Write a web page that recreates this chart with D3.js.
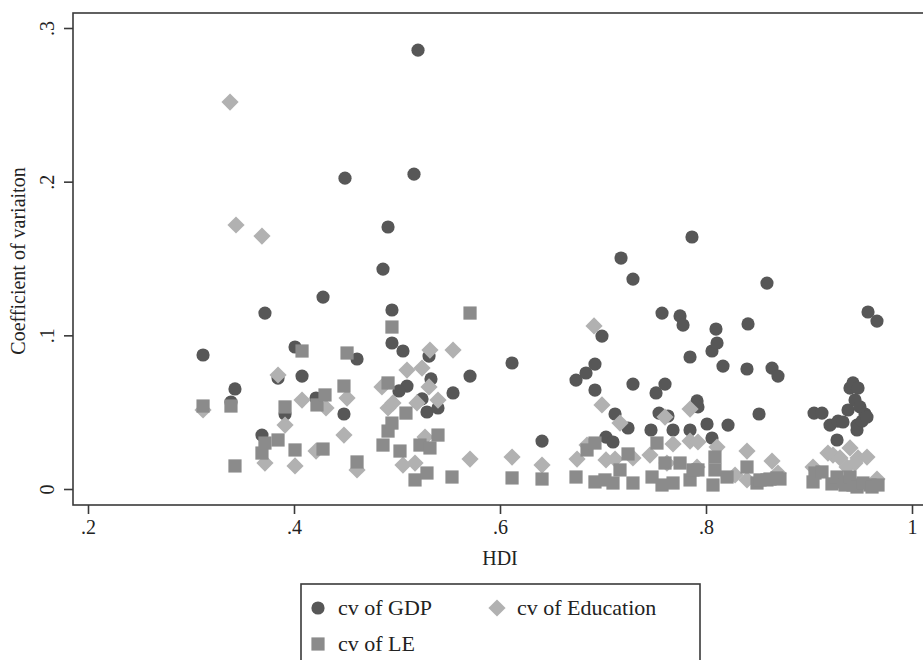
<!DOCTYPE html>
<html>
<head>
<meta charset="utf-8">
<script src="https://cdn.jsdelivr.net/npm/d3@7/dist/d3.min.js"></script>
<style>
  html, body { margin: 0; padding: 0; background: #fff; }
  svg { display: block; }
  text { font-family: "Liberation Serif", "Times New Roman", serif; fill: #222; }
</style>
</head>
<body>
<svg id="chart" width="923" height="660"></svg>
<script>
// ---- Data: [HDI, coefficient of variation] ----
const gdpPoints = [
  [0.3117,0.0872],[0.3427,0.0651],[0.3388,0.0566],[0.3718,0.1145],[0.3689,0.0351],
  [0.3845,0.0722],[0.3913,0.0488],[0.4010,0.0924],[0.4078,0.0735],[0.4214,0.0592],
  [0.4282,0.1249],[0.4495,0.2023],[0.4485,0.0488],[0.4612,0.0846],[0.4864,0.1431],
  [0.4913,0.1705],[0.4951,0.1165],[0.4951,0.0950],[0.5058,0.0898],[0.5165,0.2049],
  [0.5204,0.2856],[0.5097,0.0670],[0.5019,0.0638],[0.5243,0.0586],[0.5291,0.0501],
  [0.5311,0.0865],[0.5330,0.0716],[0.5398,0.0527],[0.5544,0.0625],[0.5709,0.0735],
  [0.6117,0.0820],[0.6408,0.0312],
  [0.6738,0.0709],[0.6835,0.0755],[0.6922,0.0813],[0.6922,0.0644],[0.6990,0.0995],
  [0.7029,0.0338],[0.7097,0.0306],[0.7117,0.0488],[0.7175,0.1503],[0.7243,0.0397],
  [0.7291,0.0683],[0.7291,0.1366],[0.7466,0.0384],[0.7515,0.0625],[0.7544,0.0494],
  [0.7573,0.1145],[0.7602,0.0683],[0.7631,0.0475],[0.7680,0.0384],[0.7748,0.1126],
  [0.7777,0.1067],[0.7845,0.0859],[0.7845,0.0384],[0.7864,0.1640],[0.7913,0.0573],
  [0.7922,0.0534],[0.8010,0.0423],[0.8058,0.0898],[0.8058,0.0332],[0.8097,0.1041],
  [0.8107,0.0950],[0.8165,0.0800],[0.8214,0.0416],[0.8398,0.0781],[0.8408,0.1074],
  [0.8515,0.0488],[0.8592,0.1340],[0.8641,0.0787],[0.8699,0.0735],
  [0.9049,0.0494],[0.9126,0.0494],[0.9204,0.0416],[0.9272,0.0319],[0.9282,0.0442],
  [0.9330,0.0436],[0.9379,0.0514],[0.9398,0.0657],[0.9427,0.0690],[0.9447,0.0579],
  [0.9466,0.0384],[0.9466,0.0416],[0.9476,0.0657],[0.9495,0.0534],[0.9515,0.0442],
  [0.9544,0.0488],[0.9563,0.0468],[0.9573,0.1152],[0.9660,0.1093]
];
const eduPoints = [
  [0.3379,0.2518],[0.3437,0.1718],[0.3689,0.1646],[0.3117,0.0514],[0.3845,0.0742],
  [0.3913,0.0416],[0.4078,0.0579],[0.3718,0.0169],[0.4010,0.0150],[0.4214,0.0247],
  [0.4311,0.0527],[0.4485,0.0351],[0.4515,0.0592],[0.4612,0.0124],[0.4854,0.0664],
  [0.4913,0.0527],[0.4961,0.0560],[0.5097,0.0774],[0.5243,0.0787],[0.5320,0.0904],
  [0.5544,0.0904],[0.5311,0.0664],[0.5194,0.0560],[0.5398,0.0579],[0.5272,0.0338],
  [0.5058,0.0156],[0.5175,0.0169],[0.5709,0.0195],
  [0.6117,0.0208],[0.6408,0.0156],
  [0.6748,0.0195],[0.6845,0.0286],[0.6913,0.1061],[0.6990,0.0547],[0.7029,0.0189],
  [0.7117,0.0195],[0.7165,0.0429],[0.7291,0.0202],[0.7456,0.0221],[0.7602,0.0468],
  [0.7621,0.0169],[0.7680,0.0293],[0.7845,0.0520],[0.7845,0.0312],[0.7922,0.0306],
  [0.7913,0.0143],[0.8107,0.0273],[0.8282,0.0091],[0.8398,0.0247],[0.8398,0.0059],
  [0.8641,0.0182],[0.8699,0.0104],
  [0.9039,0.0143],[0.9184,0.0234],[0.9233,0.0221],[0.9301,0.0202],[0.9369,0.0143],
  [0.9398,0.0267],[0.9447,0.0169],[0.9476,0.0202],[0.9563,0.0208],[0.9660,0.0065]
];
const lePoints = [
  [0.3117,0.0540],[0.3388,0.0540],[0.3427,0.0150],[0.3689,0.0234],[0.3718,0.0299],
  [0.3845,0.0319],[0.3913,0.0534],[0.4010,0.0254],[0.4078,0.0898],[0.4223,0.0547],
  [0.4282,0.0260],[0.4301,0.0612],
  [0.4485,0.0670],[0.4515,0.0885],[0.4612,0.0176],[0.4864,0.0286],[0.4913,0.0377],
  [0.4913,0.0690],[0.4951,0.1054],[0.4951,0.0429],[0.5029,0.0247],[0.5087,0.0494],
  [0.5175,0.0059],[0.5223,0.0286],[0.5291,0.0104],[0.5320,0.0267],[0.5398,0.0351],
  [0.5534,0.0078],[0.5709,0.1145],
  [0.6117,0.0072],[0.6408,0.0065],
  [0.6738,0.0078],[0.6845,0.0254],[0.6922,0.0299],[0.6922,0.0046],[0.7019,0.0059],
  [0.7097,0.0039],[0.7165,0.0124],[0.7243,0.0228],[0.7291,0.0039],[0.7476,0.0078],
  [0.7524,0.0299],[0.7573,0.0026],[0.7602,0.0169],[0.7680,0.0039],[0.7748,0.0169],
  [0.7845,0.0059],[0.7874,0.0124],[0.7922,0.0124],[0.8068,0.0026],[0.8087,0.0124],
  [0.8087,0.0208],[0.8204,0.0078],[0.8398,0.0143],[0.8495,0.0039],[0.8524,0.0059],
  [0.8592,0.0059],[0.8621,0.0065],[0.8689,0.0072],[0.8718,0.0065],
  [0.9039,0.0046],[0.9058,0.0104],[0.9126,0.0111],[0.9223,0.0033],[0.9272,0.0078],
  [0.9330,0.0046],[0.9350,0.0026],[0.9398,0.0078],[0.9427,0.0026],[0.9466,0.0013],
  [0.9524,0.0039],[0.9592,0.0026],[0.9612,0.0013],[0.9670,0.0026]
];
const xTicks = [0.2, 0.4, 0.6, 0.8, 1];
const xTickLabels = [".2", ".4", ".6", ".8", "1"];
const yTicks = [0, 0.1, 0.2, 0.3];
const yTickLabels = ["0", ".1", ".2", ".3"];
const legendLabels = ["cv of GDP", "cv of Education", "cv of LE"];

// ---- Layout ----
const svg = d3.select("#chart");
const frame = { left: 73, top: 13, right: 935, bottom: 505 };
const x = d3.scaleLinear().domain([0.2, 1]).range([88, 912]);
const y = d3.scaleLinear().domain([0, 0.3]).range([489, 28]);

const colGDP = "#575757", colEdu = "#b1b1b1", colLE = "#8b8b8b";
const R = 6.6, SQ = 13.2, DH = 8.6;

// plot region outline
svg.append("rect")
  .attr("x", frame.left).attr("y", frame.top)
  .attr("width", frame.right - frame.left).attr("height", frame.bottom - frame.top)
  .attr("fill", "none").attr("stroke", "#3a3a3a").attr("stroke-width", 1.6);

// points
const gPts = svg.append("g");
gPts.selectAll("circle.gdp").data(gdpPoints).join("circle")
  .attr("class", "gdp")
  .attr("cx", d => x(d[0])).attr("cy", d => y(d[1])).attr("r", R)
  .attr("fill", colGDP);

const diamond = h => `M0,${-h}L${h},0L0,${h}L${-h},0Z`;
gPts.selectAll("path.edu").data(eduPoints).join("path")
  .attr("class", "edu")
  .attr("transform", d => `translate(${x(d[0])},${y(d[1])})`)
  .attr("d", diamond(DH))
  .attr("fill", colEdu);

gPts.selectAll("rect.le").data(lePoints).join("rect")
  .attr("class", "le")
  .attr("x", d => x(d[0]) - SQ / 2).attr("y", d => y(d[1]) - SQ / 2)
  .attr("width", SQ).attr("height", SQ)
  .attr("fill", colLE);

// x axis
const xAxis = d3.axisBottom(x).tickValues(xTicks)
  .tickFormat((d, i) => xTickLabels[i]).tickSize(9).tickPadding(6);
const gx = svg.append("g").attr("transform", `translate(0,${frame.bottom})`).call(xAxis);
gx.select(".domain").remove();
gx.selectAll(".tick line").attr("stroke", "#3a3a3a").attr("stroke-width", 1.6);
gx.selectAll(".tick text").attr("font-size", 20).attr("fill", "#222")
  .attr("font-family", "Liberation Serif");

// y axis
const yAxis = d3.axisLeft(y).tickValues(yTicks)
  .tickFormat((d, i) => yTickLabels[i]).tickSize(9).tickPadding(6);
const gy = svg.append("g").attr("transform", `translate(${frame.left},0)`).call(yAxis);
gy.select(".domain").remove();
gy.selectAll(".tick line").attr("stroke", "#3a3a3a").attr("stroke-width", 1.6);
gy.selectAll(".tick text")
  .attr("font-size", 20).attr("fill", "#222").attr("font-family", "Liberation Serif")
  .attr("x", null).attr("dy", null)
  .attr("text-anchor", "middle")
  .attr("transform", "translate(-19,0) rotate(-90)");

// axis titles
svg.append("text").attr("x", (88 + 912) / 2).attr("y", 565)
  .attr("text-anchor", "middle").attr("font-size", 20).text("HDI");
svg.append("text")
  .attr("transform", `translate(25,${(frame.top + frame.bottom) / 2 + 2}) rotate(-90)`)
  .attr("text-anchor", "middle").attr("font-size", 20).text("Coefficient of variaiton");

// legend
const lg = svg.append("g");
lg.append("rect").attr("x", 301).attr("y", 584).attr("width", 399).attr("height", 100)
  .attr("fill", "#fff").attr("stroke", "#3a3a3a").attr("stroke-width", 1.6);
const items = [
  { label: legendLabels[0], type: "circle", color: colGDP, mx: 318, my: 608 },
  { label: legendLabels[1], type: "diamond", color: colEdu, mx: 497, my: 608 },
  { label: legendLabels[2], type: "square", color: colLE, mx: 318, my: 644 }
];
items.forEach(it => {
  if (it.type === "circle") {
    lg.append("circle").attr("cx", it.mx).attr("cy", it.my).attr("r", R).attr("fill", it.color);
  } else if (it.type === "diamond") {
    lg.append("path").attr("transform", `translate(${it.mx},${it.my})`)
      .attr("d", diamond(DH)).attr("fill", it.color);
  } else {
    lg.append("rect").attr("x", it.mx - SQ / 2).attr("y", it.my - SQ / 2)
      .attr("width", SQ).attr("height", SQ).attr("fill", it.color);
  }
  lg.append("text").attr("x", it.mx + 20).attr("y", it.my + 7)
    .attr("font-size", 22).text(it.label);
});
</script>
</body>
</html>
